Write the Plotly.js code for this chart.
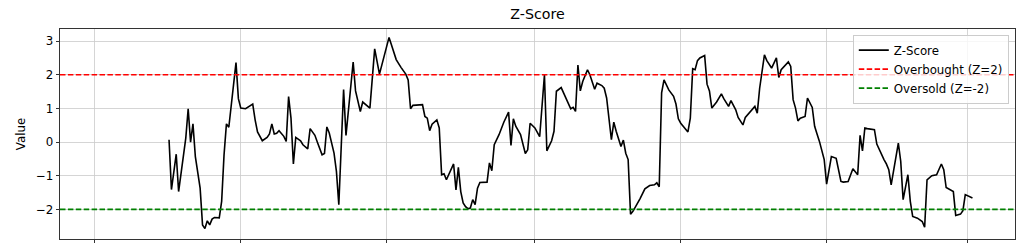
<!DOCTYPE html>
<html>
<head>
<meta charset="utf-8">
<script src="https://cdn.plot.ly/plotly-3.0.1.min.js"></script>
<style>
  html, body { margin: 0; padding: 0; background: #fff; }
  #chart { width: 1024px; height: 250px; }
</style>
</head>
<body>
<div id="chart"></div>
<script>
// Day offsets from the start date and the z-score read at each day
const startDate = '2024-03-01';
const dayOffsets = [
  31,32,34,35,38,39,40,41,42,44,45,46,47,48,49,50,52,53,54,55,56,57,58,59,60,61,63,65,66,67,68,70,
  72,73,74,75,76,77,79,80,81,82,83,84,86,87,89,90,92,93,95,96,97,98,100,101,102,104,105,108,109,111,
  112,115,117,119,121,123,124,126,128,130,131,132,133,135,137,138,139,140,141,143,144,145,146,147,149,150,
  151,152,153,154,155,156,157,158,159,160,161,164,165,166,167,169,171,173,174,175,176,178,180,181,182,184,
  186,188,189,191,192,193,195,197,199,200,201,202,203,204,206,207,209,210,212,213,214,216,217,218,220,221,
  222,223,224,225,226,228,230,232,234,235,236,237,238,240,242,243,244,245,248,249,250,251,252,253,255,256,
  257,258,260,262,263,265,266,268,269,271,272,274,276,277,278,280,281,283,285,286,287,290,291,292,293,294,
  295,297,298,300,301,302,303,305,306,308,310,312,313,315,316,317,319,320,321,322,323,326,327,328,330,331,
  332,333,335,336,337,338,340,341,342,344,346,347,348,350,352,354,355,356,359,360,362,363,364,365,367
];
const zScore = [
  0.07,-1.41,-0.36,-1.47,0.12,0.99,0.00,0.54,-0.43,-1.37,-2.46,-2.57,-2.34,-2.46,-2.29,-2.24,-2.25,-1.76,-0.38,0.54,0.44,1.11,1.75,2.36,1.29,1.01,0.99,1.09,1.13,0.66,0.30,0.04,
  0.14,0.24,0.54,0.24,0.26,0.34,0.17,0.02,1.35,0.71,-0.65,0.14,0.04,-0.08,-0.20,0.40,0.20,0.00,-0.38,-0.34,0.45,0.27,-0.33,-0.87,-1.86,1.56,0.20,2.38,1.52,0.91,
  1.19,1.01,2.77,2.02,2.59,3.11,2.89,2.45,2.22,2.02,1.85,0.99,1.09,1.11,1.11,0.76,0.71,0.34,0.53,0.66,0.42,-0.97,-0.94,-1.12,-0.77,-0.65,
  -1.42,-0.75,-1.47,-1.81,-1.92,-1.98,-1.96,-1.71,-1.86,-1.37,-1.20,-1.19,-0.62,-0.85,-0.08,0.22,0.59,0.89,-0.10,0.69,0.47,0.22,-0.34,-0.23,0.56,0.42,
  0.16,2.00,-0.26,0.04,0.32,1.51,1.62,1.31,0.99,1.03,0.91,2.29,1.52,1.80,2.15,2.00,1.57,1.75,1.68,1.60,1.31,0.07,0.59,0.32,-0.13,0.06,
  -0.33,-0.52,-2.14,-2.06,-1.94,-1.68,-1.39,-1.29,-1.27,-1.21,-1.33,1.46,1.85,1.55,1.36,1.13,0.69,0.56,0.30,0.71,2.18,2.15,2.42,2.50,2.57,1.72,
  1.52,1.01,1.19,1.43,1.29,1.06,1.23,0.96,0.73,0.51,0.73,0.91,1.06,0.86,1.60,2.59,2.42,2.20,2.50,1.92,2.15,2.38,2.25,1.26,1.01,0.63,
  0.71,0.76,1.31,1.03,0.47,0.24,0.02,-0.52,-1.25,-0.43,-0.48,-1.17,-1.19,-1.17,-0.97,-0.79,-0.97,0.20,-0.26,0.42,0.40,0.37,-0.06,-0.23,-0.52,-0.65,
  -0.82,-1.27,-0.38,-0.03,-0.57,-1.71,-0.97,-1.76,-2.21,-2.26,-2.36,-2.53,-1.12,-1.00,-0.97,-0.65,-0.82,-1.35,-1.47,-2.18,-2.14,-2.04,-1.56,-1.59,-1.66
];
const thresholdNames = ['Overbought (Z=2)', 'Oversold (Z=-2)'];
const thresholdValues = [2, -2];
const thresholdColors = ['#ff0000', '#008000'];
const xRange = ['2024-02-15 09:30', '2025-03-20 19:00'];
const yRange = [-2.88, 3.36];

const base = Date.parse(startDate + 'T00:00:00Z');
const dates = dayOffsets.map(d => new Date(base + d * 86400000).toISOString().slice(0, 10));

const font = 'DejaVu Sans, sans-serif';

const traces = [{
  x: dates, y: zScore, type: 'scatter', mode: 'lines', name: 'Z-Score',
  line: { color: '#000000', width: 1.6 }, legendrank: 1
}];

const shapes = thresholdValues.map((v, i) => ({
  type: 'line', xref: 'paper', x0: 0, x1: 1, yref: 'y', y0: v, y1: v,
  line: { color: thresholdColors[i], width: 1.6, dash: '5.5px,2.4px' },
  showlegend: true, name: thresholdNames[i], legendrank: 2 + i
}));

const layout = {
  width: 1024, height: 250,
  margin: { l: 60, r: 9, t: 29, b: 11, pad: 0 },
  paper_bgcolor: '#ffffff', plot_bgcolor: '#ffffff',
  font: { family: font, size: 11.8, color: '#000000' },
  title: { text: 'Z-Score', font: { family: font, size: 14.2, color: '#000000' },
           x: 0.5, xref: 'paper', xanchor: 'center', y: 0.944, yref: 'container', yanchor: 'middle' },
  xaxis: {
    type: 'date', range: xRange, tick0: '2024-03-01', dtick: 'M2',
    showticklabels: false, ticks: 'outside', ticklen: 3.5, tickcolor: '#000', tickwidth: 0.8,
    showgrid: true, gridcolor: '#cacaca', gridwidth: 0.8,
    showline: true, linecolor: '#000', linewidth: 0.8, mirror: true, zeroline: false
  },
  yaxis: {
    range: yRange, tickvals: [-2, -1, 0, 1, 2, 3], ticktext: ['\u22122', '\u22121', '0', '1', '2', '3'],
    ticks: 'outside', ticklen: 3.5, tickcolor: '#000', tickwidth: 0.8,
    tickfont: { family: font, size: 11.8, color: '#000' },
    showgrid: true, gridcolor: '#cacaca', gridwidth: 0.8,
    showline: true, linecolor: '#000', linewidth: 0.8, mirror: true, zeroline: false,
    title: { text: 'Value', font: { family: font, size: 11.8, color: '#000' }, standoff: 7 }
  },
  shapes: shapes,
  showlegend: true,
  legend: {
    x: 0.9935, xanchor: 'right', y: 0.973, yanchor: 'top',
    bgcolor: 'rgba(255,255,255,0.8)', bordercolor: '#cccccc', borderwidth: 1,
    font: { family: font, size: 11.8, color: '#000' }, itemwidth: 30, tracegroupgap: 0
  }
};

Plotly.newPlot('chart', traces, layout, { displayModeBar: false, staticPlot: true });
</script>
</body>
</html>
